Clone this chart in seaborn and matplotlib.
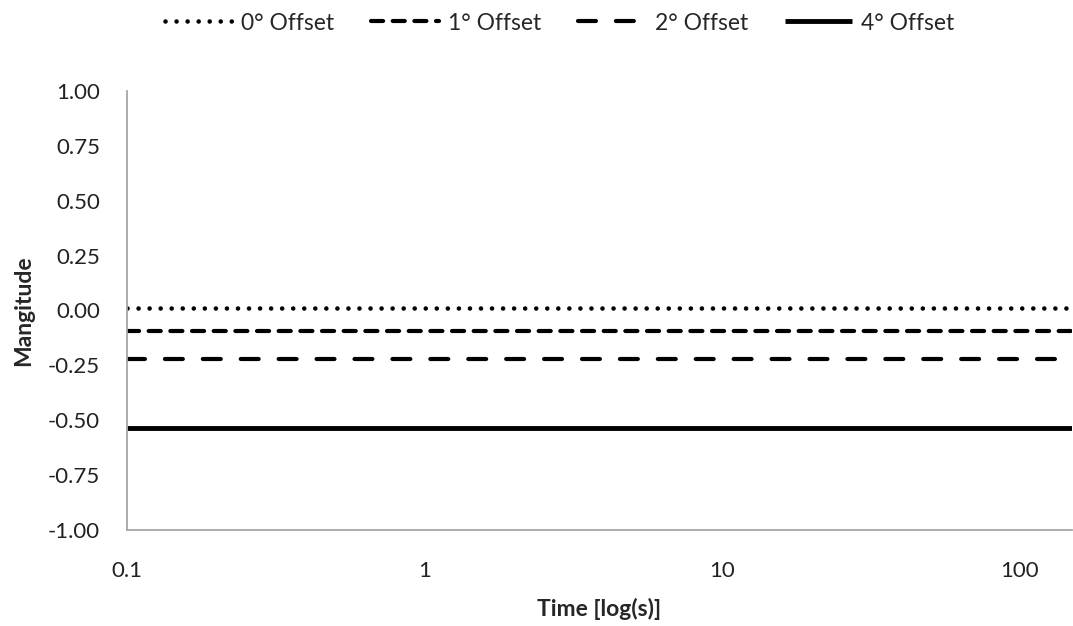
import matplotlib
matplotlib.use("Agg")
import matplotlib.pyplot as plt
import seaborn as sns
import pandas as pd
from matplotlib.ticker import FixedLocator, FixedFormatter, NullLocator

# Data
time_s = [0.1, 150]
series_names = ["0° Offset", "1° Offset", "2° Offset", "4° Offset"]
offset_0 = [0.01, 0.01]
offset_1 = [-0.095, -0.095]
offset_2 = [-0.22, -0.22]
offset_4 = [-0.535, -0.535]
x_ticks = [0.1, 1, 10, 100]
x_tick_labels = ["0.1", "1", "10", "100"]
y_ticks = [-1.0, -0.75, -0.5, -0.25, 0.0, 0.25, 0.5, 0.75, 1.0]

sns.set_theme(style="white")
plt.rcParams['font.family'] = ['Lato', 'DejaVu Sans']

values = [offset_0, offset_1, offset_2, offset_4]
df = pd.concat([pd.DataFrame({"Time": time_s, "Magnitude": v, "Series": n})
                for n, v in zip(series_names, values)], ignore_index=True)

fig = plt.figure(figsize=(10.73, 6.26), dpi=100)
ax = fig.add_axes([0.118, 0.153, 0.881, 0.702])

styles = {
    "0° Offset": dict(lw=3.3, dashes=(0.01, 2.4)),
    "1° Offset": dict(lw=3.0, dashes=(2.9, 2.3)),
    "2° Offset": dict(lw=3.0, dashes=(4.3, 4.8)),
    "4° Offset": dict(lw=3.5, dashes=None),
}

for name in series_names:
    sub = df[df["Series"] == name]
    st = styles[name]
    sns.lineplot(data=sub, x="Time", y="Magnitude", ax=ax, color="black",
                 lw=st["lw"], label=name)
    line = ax.lines[-1]
    line.set_solid_capstyle("butt")
    if st["dashes"] is not None:
        line.set_dashes(st["dashes"])
        line.set_dash_capstyle("round")

ax.set_xscale("log")
ax.set_xlim(0.1, 150)
ax.set_ylim(-1.0, 1.0)
ax.xaxis.set_major_locator(FixedLocator(x_ticks))
ax.xaxis.set_major_formatter(FixedFormatter(x_tick_labels))
ax.xaxis.set_minor_locator(NullLocator())
ax.set_yticks(y_ticks)
ax.set_yticklabels([f"{v:.2f}" for v in y_ticks])
ax.tick_params(axis="both", length=0, labelsize=16, colors="#222222")
ax.tick_params(axis="y", pad=19)
ax.tick_params(axis="x", pad=22)

for s in ["top", "right"]:
    ax.spines[s].set_visible(False)
for s in ["left", "bottom"]:
    ax.spines[s].set_color("#a6a6a6")
    ax.spines[s].set_linewidth(1.3)

ax.set_xlabel("Time [log(s)]", fontsize=16.5, fontweight="bold", labelpad=12)
ax.set_ylabel("Mangitude", fontsize=16.5, fontweight="bold", labelpad=10)

leg = ax.legend(loc="upper center", bbox_to_anchor=(0.458, 1.225), ncol=4,
                frameon=False, fontsize=16.5, handlelength=2.95,
                handletextpad=0.4, columnspacing=1.6)

fig.savefig("out.png", dpi=100)
